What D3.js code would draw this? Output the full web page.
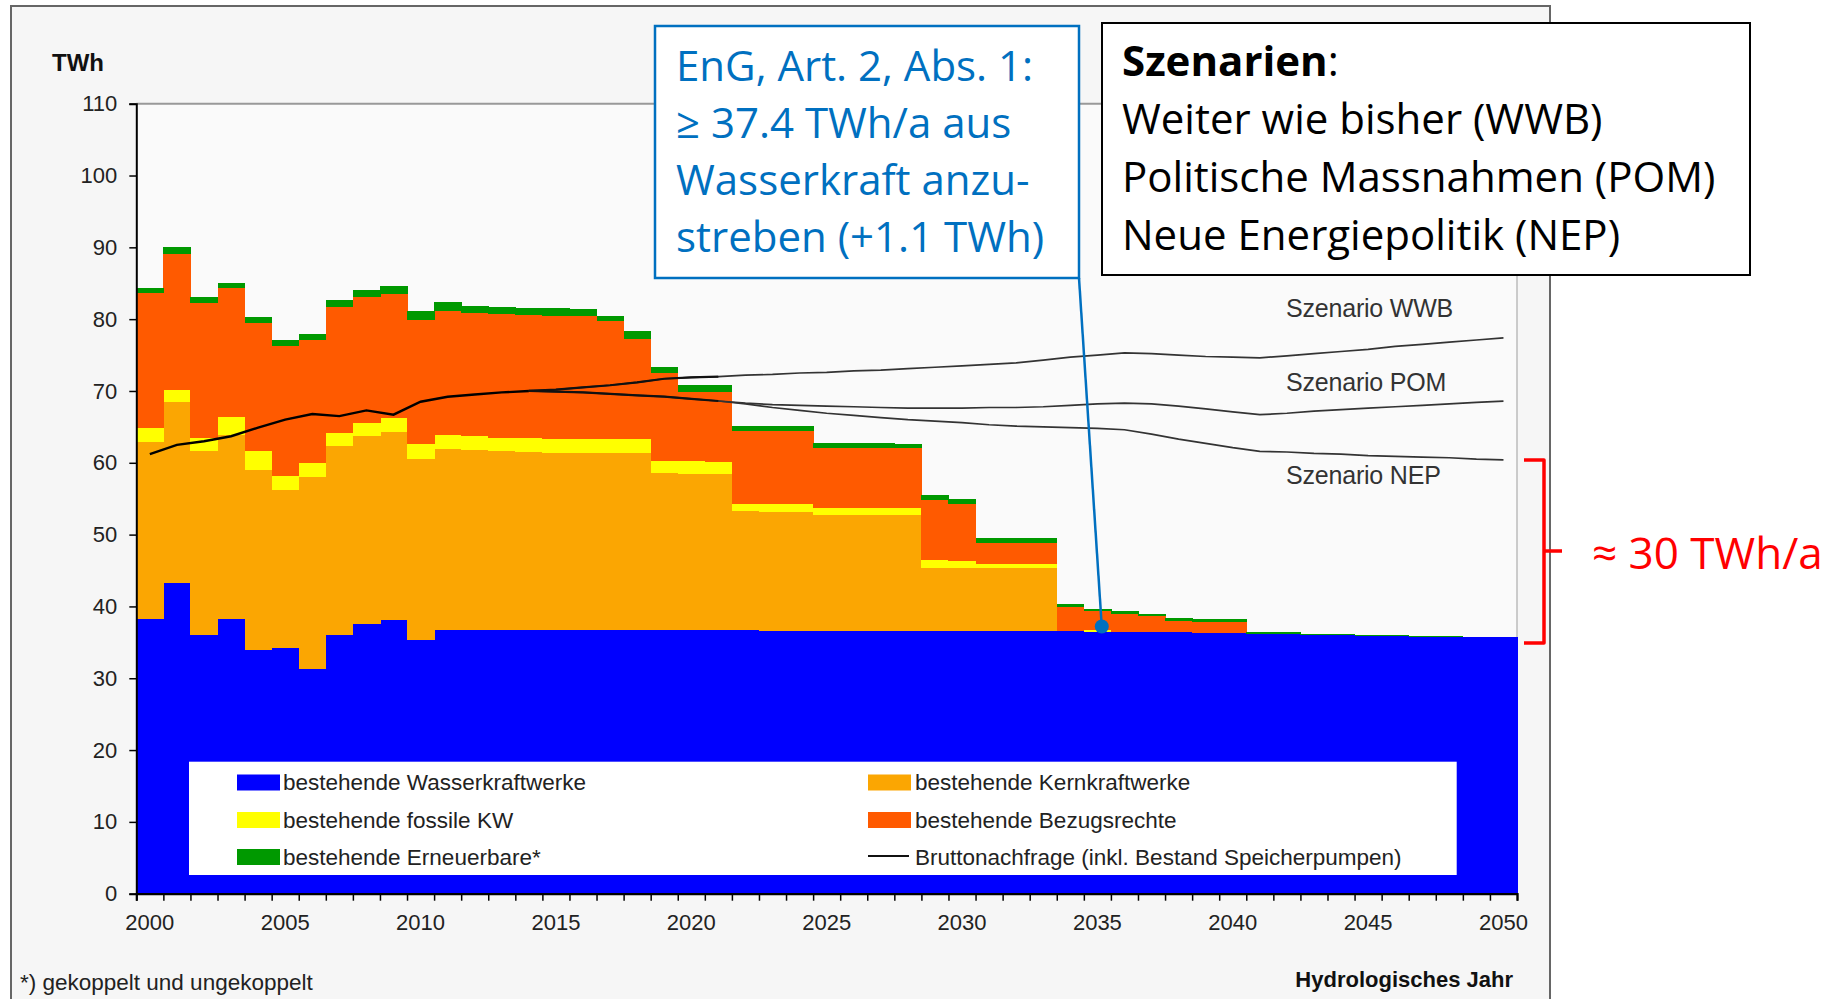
<!DOCTYPE html>
<html><head><meta charset="utf-8">
<script src="https://cdn.jsdelivr.net/npm/d3@7"></script>
<style>
html,body{margin:0;padding:0;background:#fff;}
svg{display:block;}
</style></head>
<body>
<svg id="chart" width="1827" height="999"></svg>
<script>
// ---------- DATA ----------
const years = [2000,2001,2002,2003,2004,2005,2006,2007,2008,2009,
  2010,2011,2012,2013,2014,2015,2016,2017,2018,2019,
  2020,2021,2022,2023,2024,2025,2026,2027,2028,2029,
  2030,2031,2032,2033,2034,2035,2036,2037,2038,2039,
  2040,2041,2042,2043,2044,2045,2046,2047,2048,2049,2050];

const wasserkraft = [38.3,43.2,36.0,38.2,34.0,34.2,31.3,36.0,37.5,38.1,
  35.3,36.7,36.7,36.7,36.7,36.7,36.7,36.7,36.7,36.7,
  36.7,36.7,36.7,36.6,36.6,36.6,36.6,36.6,36.6,36.6,
  36.6,36.6,36.6,36.6,36.6,36.5,36.4,36.4,36.4,36.3,
  36.3,36.2,36.1,36.0,36.0,35.9,35.9,35.8,35.8,35.7,35.7];

const kernkraft = [24.6,25.3,25.7,25.7,25.0,22.0,26.7,26.4,26.2,26.2,
  25.2,25.2,25.1,24.9,24.8,24.7,24.7,24.7,24.7,21.9,
  21.8,21.7,16.6,16.6,16.6,16.2,16.2,16.2,16.2,8.8,
  8.7,8.7,8.7,8.7,0,0,0,0,0,0,
  0,0,0,0,0,0,0,0,0,0,0];

const fossil = [1.9,1.7,1.7,2.5,2.6,1.9,2.0,1.8,1.9,2.0,
  2.1,2.0,1.9,1.9,1.9,1.9,1.9,1.9,1.9,1.7,
  1.7,1.7,1.0,1.0,1.0,0.9,0.9,0.9,0.9,1.0,
  1.0,0.6,0.6,0.6,0,0.2,0.1,0,0,0,
  0,0,0,0,0,0,0,0,0,0,0];

const bezugsrechte = [18.9,18.9,18.9,17.9,17.8,18.1,17.1,17.5,17.5,17.2,
  17.3,17.3,17.2,17.2,17.2,17.2,17.1,16.4,13.9,12.2,
  9.7,9.8,10.1,10.2,10.2,8.4,8.4,8.4,8.3,8.4,
  7.9,3.0,3.0,3.0,3.3,2.6,2.5,2.2,1.6,1.5,
  1.5,0,0,0,0,0,0,0,0,0,0];

const erneuerbare = [0.7,1.0,0.8,0.8,0.9,0.9,0.9,1.0,1.0,1.1,
  1.3,1.2,1.0,1.0,1.0,1.0,1.0,0.8,1.1,0.9,
  1.0,1.0,0.7,0.7,0.7,0.6,0.6,0.6,0.6,0.7,
  0.7,0.6,0.6,0.6,0.4,0.4,0.4,0.3,0.4,0.4,
  0.4,0.3,0.3,0.2,0.1,0.1,0.1,0.1,0.1,0.0,0.0];

// Bruttonachfrage (historic 2000-2014)
const nachfrageStart = 2000;
const nachfrage = [61.2,62.5,63.0,63.7,64.9,66.0,66.8,66.5,67.3,66.7,68.5,69.2,69.5,69.8,70.0];
// Scenarios
const wwbStart = 2014;
const szenarioWWB = [70.0,70.2,70.5,70.8,71.2,71.7,71.9,72.0,
  72.2,72.3,72.5,72.6,72.8,72.9,73.1,73.3,73.5,73.7,73.9,74.3,74.7,75.0,
  75.3,75.2,75.0,74.8,74.7,74.6,74.9,75.2,75.5,75.8,76.2,76.5,76.8,77.1,77.4];
const pomStart = 2014;
const szenarioPOM = [70.0,69.9,69.8,69.6,69.4,69.2,68.9,68.6,
  68.3,68.1,68.0,67.9,67.8,67.7,67.6,67.6,67.6,67.7,67.7,67.8,68.0,68.2,
  68.3,68.2,67.9,67.5,67.1,66.7,66.9,67.2,67.4,67.6,67.8,68.0,68.2,68.4,68.6];
const nepStart = 2021;
const szenarioNEP = [68.6,68.2,67.7,67.3,66.9,66.6,66.3,66.0,65.8,65.6,65.3,65.1,65.0,64.9,64.8,
  64.6,64.0,63.3,62.7,62.1,61.6,61.5,61.3,61.2,61.0,60.9,60.8,60.7,60.5,60.4];

const yTicks = [0,10,20,30,40,50,60,70,80,90,100,110];
const xLabelYears = [2000,2005,2010,2015,2020,2025,2030,2035,2040,2045,2050];

const seriesKeys = ["wasser","kern","fossil","bezug","erneuerbar"];
const seriesColors = {wasser:"#0000FF", kern:"#FBA602", fossil:"#FFFF00", bezug:"#FF5A00", erneuerbar:"#009900"};
const legendLeft = [["wasser","bestehende Wasserkraftwerke"],["fossil","bestehende fossile KW"],["erneuerbar","bestehende Erneuerbare*"]];
const legendRight = [["kern","bestehende Kernkraftwerke"],["bezug","bestehende Bezugsrechte"],["line","Bruttonachfrage (inkl. Bestand Speicherpumpen)"]];

const infoLines = ["EnG, Art. 2, Abs. 1:","\u2265 37.4 TWh/a aus","Wasserkraft anzu-","streben (+1.1 TWh)"];
const scenarioLines = ["Weiter wie bisher (WWB)","Politische Massnahmen (POM)","Neue Energiepolitik (NEP)"];
const markerValue = 37.2;
const markerYear = 2035;

// ---------- DRAW ----------
const svg = d3.select("#chart");
const chartFont = "'Liberation Sans', Arial, sans-serif";
const noteFont = "'Open Sans', 'Noto Sans', sans-serif";

svg.append("rect").attr("x",0).attr("y",0).attr("width",1827).attr("height",999).attr("fill","#fff");
// outer frame of the chart picture
svg.append("rect").attr("x",11).attr("y",6).attr("width",1539).attr("height",1010)
  .attr("fill","#f6f6f6").attr("stroke","#666").attr("stroke-width",2);

const X0 = 136.3, X1 = 1517, Y0 = 893.7, Y1 = 103.7;
const x = d3.scaleBand().domain(years).range([X0, X1]).padding(0);
const xl = d3.scaleLinear().domain([1999.5, 2050.5]).range([X0, X1]);
const y = d3.scaleLinear().domain([0,110]).range([Y0, Y1]);

// plot background and border
svg.append("rect").attr("x",X0).attr("y",Y1).attr("width",X1-X0).attr("height",Y0-Y1).attr("fill","#fafafa");
svg.append("line").attr("x1",X0).attr("x2",X1).attr("y1",Y1).attr("y2",Y1).attr("stroke","#999").attr("stroke-width",2);
svg.append("line").attr("x1",X1).attr("x2",X1).attr("y1",Y1).attr("y2",Y0).attr("stroke","#bbb").attr("stroke-width",1.5);

// stacked bars
const table = years.map((yr,i)=>({year:yr, wasser:wasserkraft[i], kern:kernkraft[i], fossil:fossil[i], bezug:bezugsrechte[i], erneuerbar:erneuerbare[i]}));
const stacked = d3.stack().keys(seriesKeys)(table);
const gBars = svg.append("g").attr("shape-rendering","crispEdges");
stacked.forEach(layer=>{
  gBars.append("g").attr("fill", seriesColors[layer.key])
    .selectAll("rect").data(layer.filter(d=>d[1]-d[0]>0)).join("rect")
    .attr("x", d=>x(d.data.year)).attr("width", x.bandwidth()+0.6)
    .attr("y", d=>y(d[1])).attr("height", d=>y(d[0])-y(d[1]));
});

// legend
const lg = svg.append("g");
lg.append("rect").attr("x",189).attr("y",761.7).attr("width",1267.7).attr("height",113.3).attr("fill","#fff");
const rowY = [782.5, 820, 857];
function legendCol(items, sx, tx){
  items.forEach((it,i)=>{
    if(it[0]==="line"){
      lg.append("line").attr("x1",sx).attr("x2",sx+41).attr("y1",rowY[i]-1).attr("y2",rowY[i]-1).attr("stroke","#111").attr("stroke-width",2);
    } else {
      lg.append("rect").attr("x",sx).attr("y",rowY[i]-8).attr("width",43).attr("height",16).attr("fill",seriesColors[it[0]]);
    }
    lg.append("text").attr("x",tx).attr("y",rowY[i]+7.5).text(it[1])
      .attr("font-family",chartFont).attr("font-size",22.5).attr("fill","#222");
  });
}
legendCol(legendLeft, 237, 283);
legendCol(legendRight, 868, 915);

// demand lines
const lineGen = (start)=> d3.line().x((d,i)=>x(start+i)+x.bandwidth()/2).y(d=>y(d));
const lg2 = svg.append("g").attr("fill","none");
lg2.append("path").attr("d", lineGen(wwbStart)(szenarioWWB)).attr("stroke","#333").attr("stroke-width",1.7);
lg2.append("path").attr("d", lineGen(pomStart)(szenarioPOM)).attr("stroke","#333").attr("stroke-width",1.7);
lg2.append("path").attr("d", lineGen(nepStart)(szenarioNEP)).attr("stroke","#333").attr("stroke-width",1.7);
lg2.append("path").attr("d", lineGen(wwbStart)(szenarioWWB.slice(0,8))).attr("stroke","#111").attr("stroke-width",2.2);
lg2.append("path").attr("d", lineGen(pomStart)(szenarioPOM.slice(0,8))).attr("stroke","#111").attr("stroke-width",2.2);
lg2.append("path").attr("d", lineGen(nachfrageStart)(nachfrage)).attr("stroke","#000").attr("stroke-width",2.4);

// scenario labels
[["Szenario WWB",317],["Szenario POM",390.6],["Szenario NEP",484]].forEach(([t,by])=>{
  svg.append("text").attr("x",1286).attr("y",by).text(t)
    .attr("font-family",chartFont).attr("font-size",25).attr("fill","#333").attr("letter-spacing",-0.2);
});

// axes
const yAxis = d3.axisLeft(y).tickValues(yTicks).tickSize(7).tickPadding(12);
const gy = svg.append("g").attr("transform",`translate(${X0},0)`).call(yAxis);
gy.select(".domain").attr("stroke","#000").attr("stroke-width",2);
gy.selectAll(".tick line").attr("stroke","#000").attr("stroke-width",1.5);
gy.selectAll(".tick text").attr("font-family",chartFont).attr("font-size",22).attr("fill","#222");

const boundaries = years.map(d=>d-0.5).concat([2050.5]);
const xAxisTicks = d3.axisBottom(xl).tickValues(boundaries).tickSize(7).tickFormat("");
const gx = svg.append("g").attr("transform",`translate(0,${Y0})`).call(xAxisTicks);
gx.select(".domain").attr("stroke","#000").attr("stroke-width",2.2);
gx.selectAll(".tick line").attr("stroke","#000").attr("stroke-width",1.5);
const xAxisLabels = d3.axisBottom(x).tickValues(xLabelYears).tickSize(0).tickPadding(21);
const gx2 = svg.append("g").attr("transform",`translate(0,${Y0})`).call(xAxisLabels);
gx2.select(".domain").remove();
gx2.selectAll(".tick text").attr("font-family",chartFont).attr("font-size",22).attr("fill","#222");

// axis titles and notes
svg.append("text").attr("x",52).attr("y",70.5).text("TWh").attr("font-family",chartFont).attr("font-weight","bold").attr("font-size",24).attr("fill","#111");
svg.append("text").attr("x",1513).attr("y",987).attr("text-anchor","end").text("Hydrologisches Jahr").attr("font-family",chartFont).attr("font-weight","bold").attr("font-size",22).attr("fill","#111");
svg.append("text").attr("x",20).attr("y",990).text("*) gekoppelt und ungekoppelt").attr("font-family",chartFont).attr("font-size",22.5).attr("fill","#222");

// blue annotation
const blue = "#0070C0";
const mx = x(markerYear) + x.bandwidth()/2 + 4.4, my = y(markerValue);
svg.append("line").attr("x1",1079).attr("y1",278).attr("x2",mx).attr("y2",my).attr("stroke",blue).attr("stroke-width",2.5);
svg.append("circle").attr("cx",mx).attr("cy",my).attr("r",7).attr("fill",blue);
svg.append("rect").attr("x",655).attr("y",26).attr("width",424).attr("height",252).attr("fill","#fff").attr("stroke",blue).attr("stroke-width",2.5);
infoLines.forEach((t,i)=>{
  svg.append("text").attr("x",676).attr("y",80.7+i*57.2).text(t).attr("font-family",noteFont).attr("font-size",42).attr("fill",blue);
});

// scenario box
svg.append("rect").attr("x",1102).attr("y",23).attr("width",648).attr("height",252).attr("fill","#fff").attr("stroke","#000").attr("stroke-width",2);
const t0 = svg.append("text").attr("x",1122).attr("y",76).attr("font-family",noteFont).attr("font-size",42).attr("fill","#000");
t0.append("tspan").attr("font-weight","bold").text("Szenarien");
t0.append("tspan").text(":");
scenarioLines.forEach((t,i)=>{
  svg.append("text").attr("x",1122).attr("y",134+i*58).text(t).attr("font-family",noteFont).attr("font-size",42).attr("fill","#000");
});

// red bracket
svg.append("path").attr("d","M1524,460 H1544 V643 H1524 M1544,551 H1562").attr("fill","none").attr("stroke","#FF0000").attr("stroke-width",3.5).attr("stroke-linejoin","round");
svg.append("text").attr("x",1592).attr("y",569).text("\u2248 30 TWh/a").attr("font-family",noteFont).attr("font-size",44).attr("fill","#FF0000");
</script>
</body></html>
